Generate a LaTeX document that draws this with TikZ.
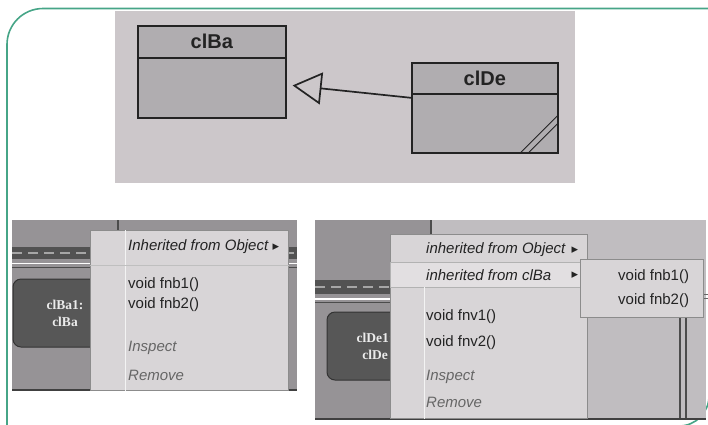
\documentclass[tikz,border=0pt]{standalone}
\usepackage{fontspec}
\setmainfont{Liberation Sans}
\newfontfamily\objfont{Liberation Serif}
\newfontfamily\symfont{DejaVu Sans}
\usetikzlibrary{arrows.meta}
\definecolor{framegreen}{RGB}{70,165,135}
\definecolor{sheetgray}{RGB}{204,199,202}
\definecolor{classgray}{RGB}{176,173,176}
\definecolor{panelgray}{RGB}{150,147,150}
\definecolor{panellight}{RGB}{192,189,192}
\definecolor{menugray}{RGB}{216,213,215}
\definecolor{inkgray}{RGB}{35,35,35}
\begin{document}
\begin{tikzpicture}[x=1pt,y=-1pt,
  classbox/.style={draw=inkgray,line width=1.6pt,fill=classgray,anchor=north west,inner sep=0pt},
  classname/.style={font=\fontsize{20}{20}\selectfont\bfseries,text=inkgray},
  objbox/.style={draw=black!80,fill=black!66,rounded corners=8pt,line width=1pt,text=black!8,
    font=\objfont\fontsize{13.5}{17}\selectfont\bfseries,align=center,inner sep=0pt},
  menubox/.style={draw=black!45,fill=menugray,line width=0.6pt,anchor=north west,inner sep=0pt},
  item/.style={anchor=west,inner sep=0pt,text=inkgray,font=\fontsize{15}{15}\selectfont},
  menuitalic/.style={item,font=\fontsize{15}{15}\selectfont\itshape},
  action/.style={menuitalic,text=black!60},
  submark/.style={inner sep=0pt,text=inkgray,font=\symfont\fontsize{13}{13}\selectfont},
  inherit/.style={-{Triangle[open,length=29pt,width=32pt]},line width=1.7pt,draw=inkgray}]
  \useasboundingbox (0,0) rectangle (708,424);
  \clip (0,0) rectangle (708,424);
  \draw[framegreen,line width=1.6pt] (7,440) -- (7,44.5) arc[start angle=180,end angle=270,radius=36]
    -- (709,8.5) -- (709,396) arc[start angle=0,end angle=90,radius=30] -- (7,426);
  \fill[sheetgray] (115,11) rectangle (575,183);
  \node[classbox,minimum width=148,minimum height=92] (clBa) at (137,25) {};
  \draw[inkgray,line width=1.2pt] ([yshift=-33pt]clBa.north west) -- ([yshift=-33pt]clBa.north east);
  \node[classname] (clBaName) at ([yshift=-16.5pt]clBa.north) {clBa};
  \node[classbox,minimum width=146,minimum height=90] (clDe) at (411,62) {};
  \draw[inkgray,line width=1.2pt] ([yshift=-32pt]clDe.north west) -- ([yshift=-32pt]clDe.north east);
  \node[classname] (clDeName) at ([yshift=-16pt]clDe.north) {clDe};
  \foreach \d in {31,39}
    \draw[inkgray,line width=0.9pt] ([xshift=-\d pt]clDe.south east) -- ([yshift=\d pt]clDe.south east);
  \draw[inherit,shorten >=6pt] ([yshift=10pt]clDe.west) -- ([yshift=-13pt]clBa.east);
  \fill[panelgray] (12,220) rectangle (297,390);
  \fill[black!68] (12,247) rectangle (297,259);
  \draw[black!35,dash pattern=on 10pt off 6pt,line width=2pt] (12,253) -- (297,253);
  \draw[white,line width=1.5pt] (12,263.5) -- (297,263.5);
  \draw[black!70,line width=1pt] (12,267) -- (297,267);
  \draw[black!70,line width=1.5pt] (118,220) -- (118,230);
  \draw[black!75,line width=2pt] (12,390) -- (297,390);
  \node[objbox,minimum width=104,minimum height=68] (clBa1) at (65,313) {clBa1:\\clBa};
  \node[menubox,minimum width=198,minimum height=160] (menuBa) at (90,230) {};
  \draw[white!70!menugray,line width=1pt] ([xshift=35pt]menuBa.north west) -- ([xshift=35pt]menuBa.south west);
  \draw[black!25] ([yshift=-35pt]menuBa.north west) -- ([yshift=-35pt]menuBa.north east);
  \node[menuitalic] (baObj) at (128,247) {Inherited from Object};
  \node[submark] (baObjMark) at (276,247) {▸};
  \node[item] (baFnb1) at (128,285) {void fnb1()};
  \node[item] (baFnb2) at (128,305) {void fnb2()};
  \node[action] (baInspect) at (128,348) {Inspect};
  \node[action] (baRemove) at (128,375) {Remove};
  \fill[panelgray] (315,220) rectangle (706,420);
  \fill[panellight] (431,220) rectangle (706,420);
  \fill[black!68] (315,280) rectangle (390,294);
  \draw[black!35,dash pattern=on 10pt off 6pt,line width=2pt] (315,287) -- (390,287);
  \draw[white,line width=1.5pt] (315,299) -- (390,299);
  \draw[black!70,line width=1pt] (315,302) -- (390,302);
  \draw[black!70,line width=1.5pt] (431,220) -- (431,234);
  \draw[black!75,line width=2pt] (315,419) -- (706,419);
  \foreach \x in {680,686}
    \draw[black!70,line width=1.2pt] (\x,317) -- (\x,418);
  \foreach \y in {294,298}
    \draw[black!60,line width=0.8pt] (700,\y) -- (708,\y);
  \node[objbox,minimum width=96,minimum height=68] (clDe1) at (375,346) {clDe1:\\clDe};
  \node[menubox,minimum width=197,minimum height=184] (menuDe) at (390,234) {};
  \draw[black!30,fill=menugray!75!white] ([yshift=-28pt]menuDe.north west) rectangle ([yshift=-53pt]menuDe.north east);
  \draw[white!70!menugray,line width=1pt] ([xshift=34pt,yshift=-53pt]menuDe.north west) -- ([xshift=34pt]menuDe.south west);
  \node[menuitalic] (deObj) at (426,250) {inherited from Object};
  \node[submark] (deObjMark) at (575,250) {▸};
  \node[menuitalic] (deBa) at (426,275) {inherited from clBa};
  \node[submark] (deBaMark) at (575,275) {▸};
  \node[item] (deFnv1) at (426,317) {void fnv1()};
  \node[item] (deFnv2) at (426,343) {void fnv2()};
  \node[action] (deInspect) at (426,377) {Inspect};
  \node[action] (deRemove) at (426,402) {Remove};
  \node[menubox,minimum width=123,minimum height=58] (subBa) at (580,259) {};
  \node[item] (subFnb1) at (618,277) {void fnb1()};
  \node[item] (subFnb2) at (618,301) {void fnb2()};
\end{tikzpicture}
\end{document}
